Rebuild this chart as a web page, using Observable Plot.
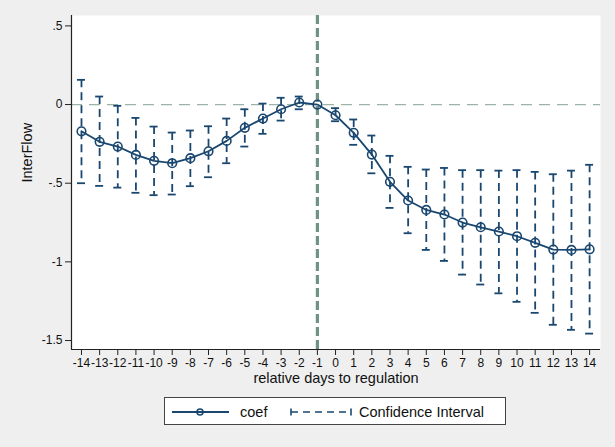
<!DOCTYPE html>
<html>
<head>
<meta charset="utf-8">
<script src="https://cdn.jsdelivr.net/npm/d3@7"></script>
<script src="https://cdn.jsdelivr.net/npm/@observablehq/plot@0.6"></script>
<style>
  html, body { margin: 0; padding: 0; background: #efefef; }
  body { width: 615px; height: 447px; position: relative; overflow: hidden; font-family: "Liberation Sans", Arial, Helvetica, sans-serif; }
  #chart { position: absolute; left: 0; top: 0; }
  #legend { position: absolute; left: 164px; top: 397px; width: 340px; height: 26px; background: #fff; border: 1px solid #444; }
</style>
</head>
<body>
<div id="chart"></div>
<div id="legend"></div>
<script>
const days = [-14,-13,-12,-11,-10,-9,-8,-7,-6,-5,-4,-3,-2,-1,0,1,2,3,4,5,6,7,8,9,10,11,12,13,14];
const coef = [-0.170,-0.237,-0.267,-0.320,-0.358,-0.373,-0.341,-0.297,-0.231,-0.148,-0.089,-0.030,0.013,0.000,-0.068,-0.180,-0.318,-0.491,-0.610,-0.670,-0.699,-0.750,-0.780,-0.807,-0.837,-0.879,-0.922,-0.924,-0.920];
const ciHigh = [0.157,0.051,-0.008,-0.085,-0.140,-0.178,-0.165,-0.138,-0.089,-0.030,0.006,0.043,0.051,0.000,-0.023,-0.095,-0.197,-0.326,-0.396,-0.413,-0.403,-0.417,-0.417,-0.420,-0.417,-0.428,-0.443,-0.420,-0.383];
const ciLow = [-0.500,-0.517,-0.528,-0.561,-0.576,-0.572,-0.519,-0.462,-0.373,-0.267,-0.186,-0.102,-0.030,0.000,-0.106,-0.256,-0.437,-0.657,-0.818,-0.924,-0.994,-1.081,-1.144,-1.200,-1.254,-1.324,-1.400,-1.432,-1.456];
const xTickLabels = ["-14","-13","-12","-11","-10","-9","-8","-7","-6","-5","-4","-3","-2","-1","0","1","2","3","4","5","6","7","8","9","10","11","12","13","14"];
const yTicks = [0.5, 0, -0.5, -1, -1.5];
const yTickLabels = [".5", "0", "-.5", "-1", "-1.5"];
const eventDay = [-1];
const baseline = [0];
const xDomain = [-14.55, 14.6];
const yDomain = [-1.557, 0.566];

const data = days.map((d, i) => ({day: d, coef: coef[i], hi: ciHigh[i], lo: ciLow[i]}));
const ci = data.filter(d => d.hi !== d.lo);
const navy = "#1a476f";
const capHalf = 0.22;
const xFmt = d => xTickLabels[days.indexOf(d)];
const yFmt = d => yTickLabels[yTicks.indexOf(d)];

const plot = Plot.plot({
  width: 615,
  height: 392,
  marginLeft: 71,
  marginRight: 15,
  marginTop: 15,
  marginBottom: 43,
  style: {background: "transparent", fontFamily: "'Liberation Sans', Arial, Helvetica, sans-serif", fontSize: "12px", color: "#111"},
  x: {domain: xDomain, label: null},
  y: {domain: yDomain, label: null},
  marks: [
    Plot.frame({fill: "#fff", stroke: null}),
    Plot.ruleY(baseline, {stroke: "#9db3aa", strokeWidth: 1.3, strokeDasharray: "11,7"}),
    Plot.ruleX(eventDay, {stroke: "#6f9483", strokeWidth: 3.2, strokeDasharray: "9,4"}),
    Plot.ruleX(ci, {x: "day", y1: "hi", y2: "lo", stroke: navy, strokeWidth: 1.8, strokeDasharray: "8,5"}),
    Plot.ruleY(ci, {y: "hi", x1: d => d.day - capHalf, x2: d => d.day + capHalf, stroke: navy, strokeWidth: 1.8}),
    Plot.ruleY(ci, {y: "lo", x1: d => d.day - capHalf, x2: d => d.day + capHalf, stroke: navy, strokeWidth: 1.8}),
    Plot.line(data, {x: "day", y: "coef", stroke: navy, strokeWidth: 1.8}),
    Plot.dot(data, {x: "day", y: "coef", r: 4.3, stroke: navy, strokeWidth: 1.6, fill: "none"}),
    Plot.ruleY([yDomain[0]], {stroke: "#222", strokeWidth: 1.2}),
    Plot.ruleX([xDomain[0]], {stroke: "#222", strokeWidth: 1.2}),
    Plot.axisX({ticks: days, tickFormat: xFmt, tickSize: 6, tickPadding: 3, fontSize: 12, stroke: "#222", label: null}),
    Plot.axisY({ticks: yTicks, tickFormat: yFmt, tickSize: 6, tickPadding: 3, fontSize: 12, stroke: "#222", label: null}),
    Plot.text(["relative days to regulation"], {frameAnchor: "bottom", dy: 33, fontSize: 14.5, fill: "#111"}),
    Plot.text(["InterFlow"], {frameAnchor: "left", dx: -44, rotate: -90, fontSize: 14.5, fill: "#111"})
  ]
});
document.getElementById("chart").appendChild(plot);

// Legend
const legend = d3.select("#legend").append("svg").attr("width", 340).attr("height", 26)
  .style("font-family", "'Liberation Sans', Arial, Helvetica, sans-serif");
const cy = 14;
legend.append("line").attr("x1", 7).attr("x2", 64).attr("y1", cy).attr("y2", cy).attr("stroke", navy).attr("stroke-width", 1.8);
legend.append("circle").attr("cx", 35).attr("cy", cy).attr("r", 3).attr("fill", "none").attr("stroke", navy).attr("stroke-width", 1.6);
legend.append("text").attr("x", 75).attr("y", cy + 5).attr("font-size", 14.5).attr("fill", "#111").text("coef");
legend.append("line").attr("x1", 126).attr("x2", 186).attr("y1", cy).attr("y2", cy).attr("stroke", navy).attr("stroke-width", 1.6).attr("stroke-dasharray", "7,5");
legend.append("line").attr("x1", 126).attr("x2", 126).attr("y1", cy - 3.5).attr("y2", cy + 3.5).attr("stroke", navy).attr("stroke-width", 1.6);
legend.append("line").attr("x1", 186).attr("x2", 186).attr("y1", cy - 3.5).attr("y2", cy + 3.5).attr("stroke", navy).attr("stroke-width", 1.6);
legend.append("text").attr("x", 194).attr("y", cy + 5).attr("font-size", 14.5).attr("fill", "#111").text("Confidence Interval");
</script>
</body>
</html>
